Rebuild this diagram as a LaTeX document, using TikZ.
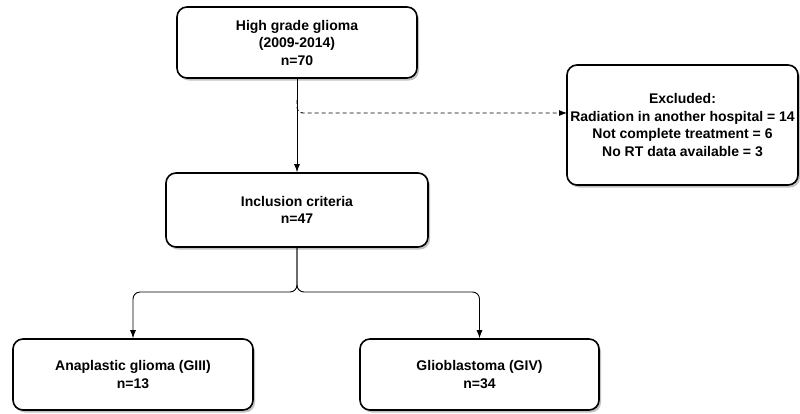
\documentclass[tikz,border=0pt]{standalone}
\usepackage{fontspec}
\setmainfont{Liberation Sans}
\usetikzlibrary{arrows.meta,shadows}
\tikzstyle{box}=[rectangle,rounded corners=10pt,fill=white,draw=black,
  line width=1.6pt,inner sep=0pt,align=center,
  font=\bfseries\fontsize{14}{17.5}\selectfont,
  drop shadow={shadow xshift=2pt,shadow yshift=-2.5pt,fill=black!40,opacity=0.6}]
\tikzstyle{flow}=[-{Latex[length=8pt,width=6pt]},line width=0.9pt]
\tikzstyle{none}=[]

\begin{document}
\begin{tikzpicture}[x=1pt,y=-1pt]
    \useasboundingbox (0,0) rectangle (800,413);
        \node [style=box, minimum width=240pt, minimum height=71pt] (0) at (297,42.5) {High grade glioma\\(2009-2014)\\n=70};
		\node [style=box, minimum width=262pt, minimum height=74pt] (1) at (297,210) {Inclusion criteria\\n=47};
		\node [style=box, minimum width=231pt, minimum height=120pt] (2) at (682.5,125) {Excluded:\\Radiation in another hospital = 14\\Not complete treatment = 6\\No RT data available = 3};
		\node [style=box, minimum width=240pt, minimum height=71pt] (3) at (133,374.5) {Anaplastic glioma (GIII)\\n=13};
		\node [style=box, minimum width=239pt, minimum height=71pt] (4) at (479.5,374.5) {Glioblastoma (GIV)\\n=34};
		\coordinate (5) at (297,100);
		\coordinate (6) at (567,113);
		\coordinate (7) at (297,292);
		\draw [style=flow] (0) to (1);
		\draw [style=flow, dash pattern=on 4pt off 3pt, rounded corners=6pt] (5) |- (6);
		\draw [style=flow, rounded corners=7pt] (1) -- (7) -| (3);
		\draw [style=flow, rounded corners=7pt] (1) -- (7) -| (4);
    \end{tikzpicture}
\end{document}
